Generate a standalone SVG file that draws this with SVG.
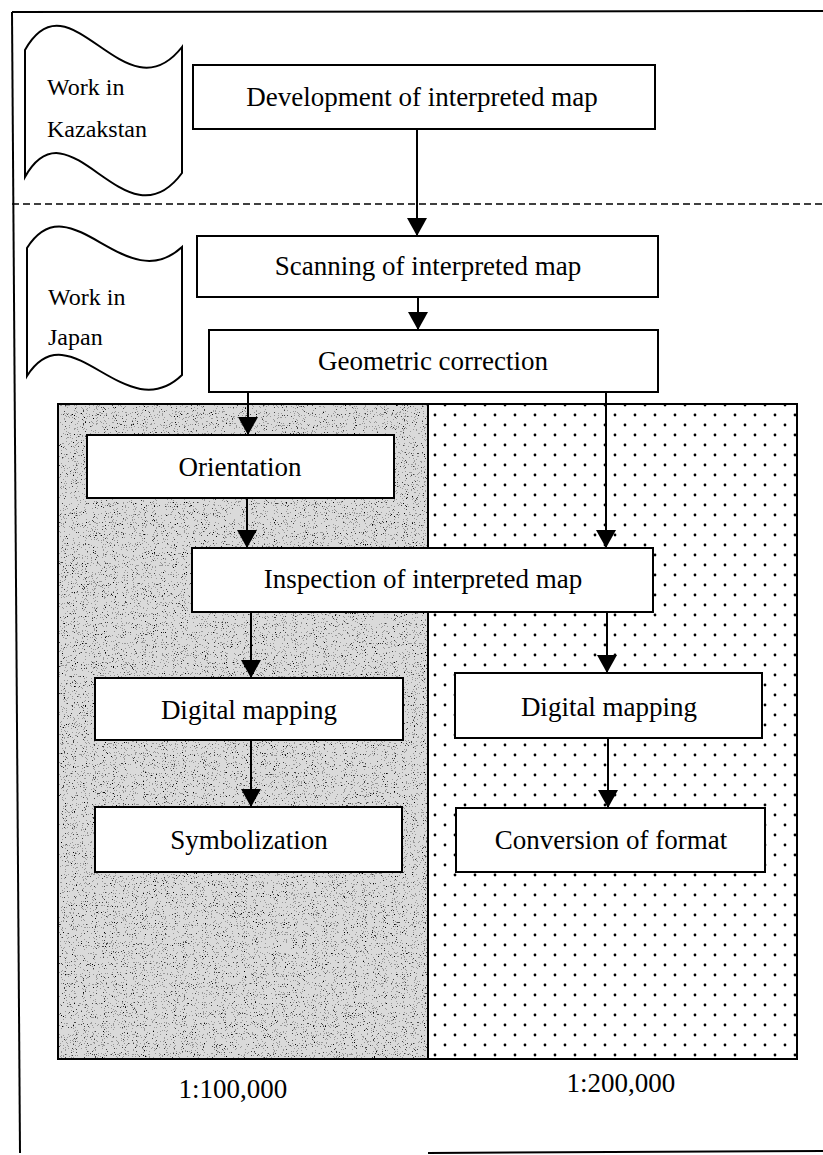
<svg xmlns="http://www.w3.org/2000/svg" width="823" height="1155" viewBox="0 0 823 1155">
<style>
.box{fill:#fff;stroke:#000;stroke-width:2}
.flag{fill:#fff;stroke:#000;stroke-width:2}
.t{font-family:"Liberation Serif","Times New Roman",serif;font-size:27px;fill:#000;text-anchor:middle}
.ft{font-family:"Liberation Serif","Times New Roman",serif;font-size:24px;fill:#000}
.conn line{stroke:#000;stroke-width:2;marker-end:url(#ah)}
.frame{fill:none;stroke:#000;stroke-width:2}
</style>
<defs>
<marker id="ah" viewBox="0 0 18 20" markerWidth="18" markerHeight="20" refX="18" refY="10" orient="auto" markerUnits="userSpaceOnUse">
<path d="M0,0 L18,10 L0,20 z" fill="#000"/>
</marker>
<pattern id="dots" width="20" height="20" patternUnits="userSpaceOnUse">
<rect width="20" height="20" fill="#fff"/>
<circle cx="5" cy="5" r="1.4" fill="#000"/>
<circle cx="15" cy="15" r="1.4" fill="#000"/>
</pattern>
<filter id="speckle" x="0" y="0" width="100%" height="100%" color-interpolation-filters="sRGB">
<feTurbulence type="fractalNoise" baseFrequency="0.9" numOctaves="2" seed="7" result="n"/>
<feColorMatrix in="n" type="matrix" values="0 0 0 0 0  0 0 0 0 0  0 0 0 0 0  1.4 0 0 0 -0.3" result="a"/>
<feComponentTransfer in="a">
<feFuncA type="discrete" tableValues="0 0 0 0 0 0 0.3 0.7 1 1"/>
</feComponentTransfer>
</filter>
</defs>

<g id="frame">
<path class="frame" d="M12,12 L823,11"/>
<path class="frame" d="M12,12 L20,1153"/>
<path class="frame" d="M428,1153 L823,1151"/>
<path d="M12,204 L823,204" fill="none" stroke="#000" stroke-width="1.6" stroke-dasharray="7 4"/>
</g>

<g id="scale-areas">
<rect x="58" y="404" width="370" height="655" fill="#dadada"/>
<rect x="58" y="404" width="370" height="655" fill="#000" filter="url(#speckle)"/>
<rect x="428" y="404" width="369" height="655" fill="url(#dots)"/>
<rect x="58" y="404" width="739" height="655" fill="none" stroke="#000" stroke-width="2"/>
<line x1="428" y1="404" x2="428" y2="1059" stroke="#000" stroke-width="2"/>
</g>

<g id="flag-kazakstan">
<path class="flag" d="M25,50 C70,-30 125,120 182,47 L182,173 C125,250 70,97 25,177 Z"/>
<text class="ft" x="47" y="95">Work in</text>
<text class="ft" x="47" y="137">Kazakstan</text>
</g>

<g id="flag-japan">
<path class="flag" d="M27,248 C70,180 125,300 182,247 L182,375 C125,430 70,308 27,376 Z"/>
<text class="ft" x="48" y="305">Work in</text>
<text class="ft" x="48" y="345">Japan</text>
</g>

<g id="node-development">
<rect class="box" x="193" y="65" width="462" height="64"/>
<text class="t" x="422" y="106">Development of interpreted map</text>
</g>

<g id="node-scanning">
<rect class="box" x="197" y="236" width="461" height="61"/>
<text class="t" x="428" y="275">Scanning of interpreted map</text>
</g>

<g id="node-geometric">
<rect class="box" x="209" y="330" width="449" height="62"/>
<text class="t" x="433" y="370">Geometric correction</text>
</g>

<g id="node-orientation">
<rect class="box" x="87" y="435" width="307" height="63"/>
<text class="t" x="240" y="476">Orientation</text>
</g>

<g id="node-inspection">
<rect class="box" x="192" y="548" width="461" height="64"/>
<text class="t" x="423" y="588">Inspection of interpreted map</text>
</g>

<g id="node-digital-100">
<rect class="box" x="95" y="678" width="308" height="62"/>
<text class="t" x="249" y="719">Digital mapping</text>
</g>

<g id="node-symbolization">
<rect class="box" x="95" y="807" width="307" height="65"/>
<text class="t" x="249" y="849">Symbolization</text>
</g>

<g id="node-digital-200">
<rect class="box" x="455" y="673" width="307" height="65"/>
<text class="t" x="609" y="716">Digital mapping</text>
</g>

<g id="node-conversion">
<rect class="box" x="456" y="808" width="309" height="64"/>
<text class="t" x="611" y="849">Conversion of format</text>
</g>

<g id="scale-labels">
<text class="t" x="233" y="1098">1:100,000</text>
<text class="t" x="621" y="1092">1:200,000</text>
</g>

<g id="connectors" class="conn">
<line x1="417" y1="129" x2="417" y2="236"/>
<line x1="418" y1="297" x2="418" y2="330"/>
<line x1="248" y1="392" x2="248" y2="435"/>
<line x1="606" y1="392" x2="606" y2="548"/>
<line x1="247" y1="498" x2="247" y2="548"/>
<line x1="251" y1="612" x2="251" y2="678"/>
<line x1="607" y1="612" x2="607" y2="673"/>
<line x1="251" y1="740" x2="251" y2="807"/>
<line x1="608" y1="738" x2="608" y2="808"/>
</g>
</svg>
